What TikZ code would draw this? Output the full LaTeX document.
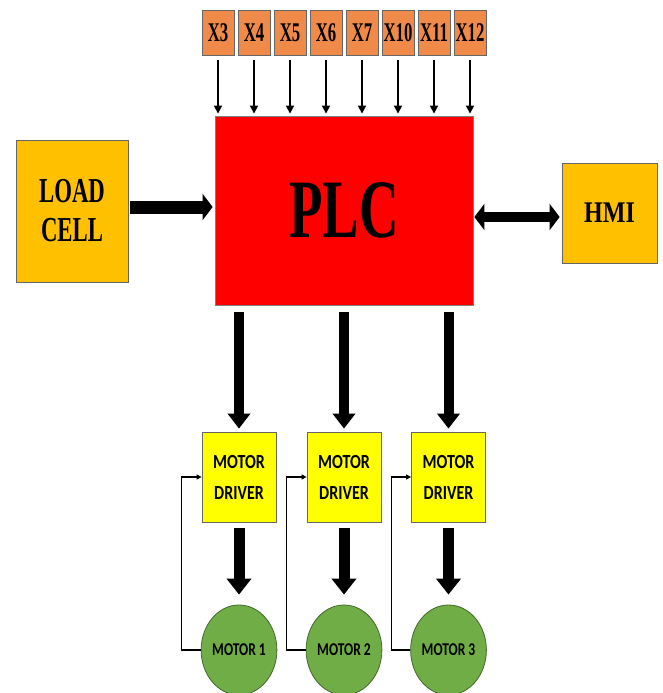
\documentclass[tikz,border=0pt]{standalone}
\usepackage{fontspec}
\setmainfont{Liberation Serif}
\newfontfamily\xfont[FakeStretch=0.62]{Liberation Serif}
\newfontfamily\lcfont[FakeStretch=0.65]{Liberation Serif}
\newfontfamily\plcfont[FakeStretch=0.66]{Liberation Serif}
\newfontfamily\hmifont[FakeStretch=0.8]{Liberation Serif}
\newfontfamily\drvfont[FakeStretch=0.8]{Carlito}
\newfontfamily\motfont[FakeStretch=0.75]{Carlito}
\usetikzlibrary{arrows.meta,shapes.geometric}
\definecolor{xorange}{HTML}{F08A48}
\definecolor{amber}{HTML}{FFC000}
\definecolor{plcred}{HTML}{FF0000}
\definecolor{drvyellow}{HTML}{FFFF00}
\definecolor{motgreen}{HTML}{70AD47}
\begin{document}
\begin{tikzpicture}[x=1pt,y=-1pt,
  xbox/.style={draw=black!60, line width=0.8pt, fill=xorange, minimum width=32pt, minimum height=45pt, inner sep=0pt,
    font=\xfont\bfseries\fontsize{27}{27}\selectfont},
  ambox/.style={draw=black!60, line width=0.8pt, fill=amber, inner sep=0pt, align=center},
  plcbox/.style={draw=black!50, line width=0.8pt, fill=plcred, minimum width=258pt, minimum height=189pt, inner sep=0pt,
    font=\plcfont\bfseries\fontsize{83}{83}\selectfont},
  drvbox/.style={draw=black!60, line width=0.8pt, fill=drvyellow, minimum width=74pt, minimum height=90pt, inner sep=0pt,
    align=center, font=\drvfont\bfseries\fontsize{20}{31}\selectfont},
  motell/.style={ellipse, draw=motgreen!60!black, line width=0.8pt, fill=motgreen, minimum width=74pt, minimum height=90pt,
    inner sep=0pt, font=\motfont\bfseries\fontsize{18}{18}\selectfont},
  thinarrow/.style={line width=1.8pt, -{Triangle[length=8pt,width=8pt]}},
  fbline/.style={line width=1.3pt, -{Triangle[length=5pt,width=5pt]}},
  bigdown/.style={line width=10pt, -{Triangle[length=15pt,width=22pt]}},
  motdown/.style={line width=11pt, -{Triangle[length=16pt,width=24pt]}}
]
\useasboundingbox (0,0) rectangle (662,693);

% input boxes
\node[xbox] (x3)  at (218,32.5) {X3};
\node[xbox] (x4)  at (254,32.5) {X4};
\node[xbox] (x5)  at (290,32.5) {X5};
\node[xbox] (x6)  at (326,32.5) {X6};
\node[xbox] (x7)  at (362,32.5) {X7};
\node[xbox] (x10) at (398,32.5) {X10};
\node[xbox] (x11) at (434,32.5) {X11};
\node[xbox] (x12) at (470,32.5) {X12};

% PLC
\node[plcbox] (plc) at (344,210.5) {PLC};

% load cell and HMI
\node[ambox, minimum width=112pt, minimum height=142pt, font=\lcfont\bfseries\fontsize{35}{39}\selectfont] (lc) at (72,211) {LOAD\\CELL};
\node[ambox, minimum width=95pt, minimum height=100pt, font=\hmifont\bfseries\fontsize{30}{30}\selectfont] (hmi) at (609.5,213) {HMI};

% motor drivers
\node[drvbox] (d1) at (239,477) {MOTOR\\DRIVER};
\node[drvbox] (d2) at (344,477) {MOTOR\\DRIVER};
\node[drvbox] (d3) at (448.5,477) {MOTOR\\DRIVER};

% motors
\node[motell] (m1) at (239,650) {MOTOR 1};
\node[motell] (m2) at (344,650) {MOTOR 2};
\node[motell] (m3) at (448.5,650) {MOTOR 3};

% input arrows
\foreach \n in {x3,x4,x5,x6,x7,x10,x11,x12}{
  \draw[thinarrow, shorten <=5pt, shorten >=2pt] (\n.south) -- (\n.south |- plc.north);
}

% load cell -> PLC
\draw[line width=13pt, -{Triangle[length=10pt,width=26pt]}, shorten <=2pt, shorten >=2pt] (lc.east |- 0,207) -- (plc.west |- 0,207);

% PLC <-> HMI
\draw[line width=10pt, {Triangle[length=10pt,width=26pt]}-{Triangle[length=10pt,width=26pt]}, shorten <=1pt, shorten >=2pt] (plc.east |- 0,217) -- (hmi.west |- 0,217);

% PLC -> drivers
\draw[bigdown, shorten <=7pt, shorten >=3pt] (d1.north |- plc.south) -- (d1.north);
\draw[bigdown, shorten <=7pt, shorten >=3pt] (d2.north |- plc.south) -- (d2.north);
\draw[bigdown, shorten <=7pt, shorten >=3pt] (d3.north |- plc.south) -- (d3.north);

% drivers -> motors
\draw[motdown, shorten <=6pt, shorten >=10pt] (d1.south) -- (m1.north);
\draw[motdown, shorten <=6pt, shorten >=10pt] (d2.south) -- (m2.north);
\draw[motdown, shorten <=6pt, shorten >=10pt] (d3.south) -- (m3.north);

% feedback lines
\draw[fbline] (m1.west) -- ++(-19,0) |- (d1.west);
\draw[fbline] (m2.west) -- ++(-19,0) |- (d2.west);
\draw[fbline] (m3.west) -- ++(-19,0) |- (d3.west);
\end{tikzpicture}
\end{document}
